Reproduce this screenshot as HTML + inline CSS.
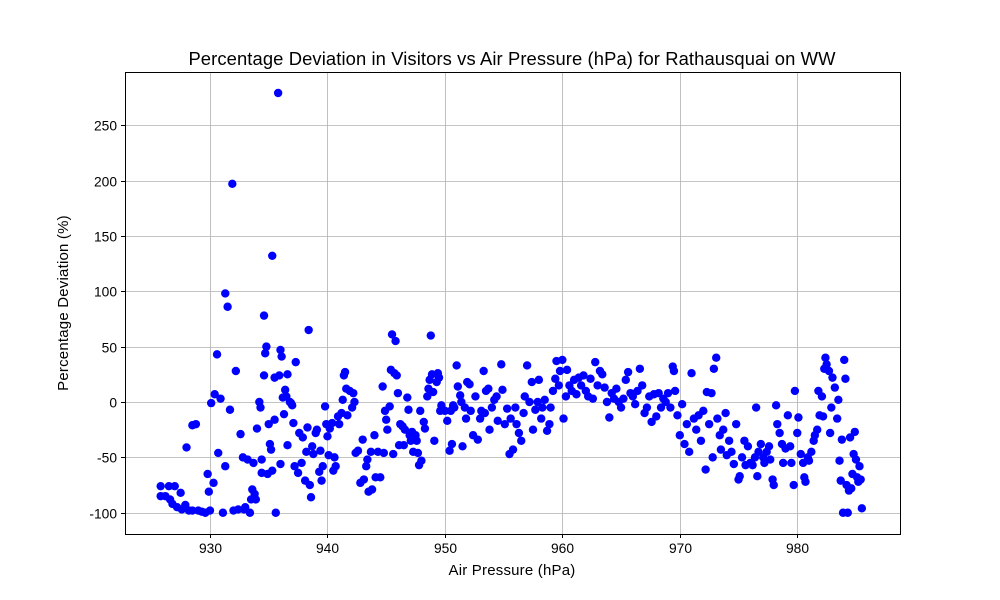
<!DOCTYPE html>
<html><head><meta charset="utf-8">
<style>
html,body{margin:0;padding:0;background:#fff;}
svg{display:block;font-family:"Liberation Sans","DejaVu Sans",sans-serif;}
</style></head>
<body>
<svg id="chart" width="1000" height="600">
  <rect width="1000" height="600" fill="#fff"/>
  <text x="512" y="65" text-anchor="middle" font-size="18.4" fill="#000" letter-spacing="0.1">Percentage Deviation in Visitors vs Air Pressure (hPa) for Rathausquai on WW</text>
  <g id="grid"></g>
  <g id="points"></g>
  <rect x="125.5" y="72.5" width="775" height="462" fill="none" stroke="#000" stroke-width="1"/>
  <g id="xticks"></g>
  <g id="yticks"></g>
  <text x="512" y="575" text-anchor="middle" font-size="15" fill="#000" letter-spacing="0.2">Air Pressure (hPa)</text>
  <text transform="translate(68,303) rotate(-90)" text-anchor="middle" font-size="15" fill="#000" letter-spacing="0.2">Percentage Deviation (%)</text>
</svg>
<script>
const xTicks=[930,940,950,960,970,980];
const yTicks=[-100,-50,0,50,100,150,200,250];
const pressure=[925.8,925.8,926.2,926.5,926.6,926.8,927,927.2,927.5,927.6,927.9,928,928.2,928.5,928.5,928.8,929,929.3,929.6,929.8,929.9,930,930.1,930.3,930.4,930.6,930.7,930.9,931.1,931.3,931.3,931.5,931.7,931.9,932,932.2,932.4,932.6,932.8,932.9,933,933.2,933.4,933.5,933.6,933.7,933.8,933.9,934,934.2,934.3,934.4,934.4,934.6,934.6,934.7,934.8,934.9,935,935.1,935.2,935.3,935.3,935.5,935.5,935.6,935.8,935.9,936,936,936.1,936.2,936.3,936.4,936.5,936.6,936.6,936.8,936.9,937,937.1,937.2,937.3,937.5,937.6,937.8,937.9,938.1,938.2,938.3,938.4,938.5,938.6,938.7,938.8,939,939.1,939.3,939.4,939.5,939.6,939.8,939.9,940,940.1,940.2,940.4,940.5,940.6,940.7,940.9,941,941.2,941.3,941.4,941.5,941.6,941.7,941.9,942.1,942.2,942.3,942.4,942.6,942.8,943,943.1,943.3,943.4,943.5,943.7,943.8,944,944.1,944.3,944.5,944.7,944.8,944.9,945,945.1,945.3,945.4,945.5,945.6,945.7,945.8,945.9,946,946.1,946.2,946.4,946.5,946.6,946.8,946.9,947,947.1,947.2,947.3,947.5,947.6,947.7,947.8,947.9,948,948.2,948.3,948.5,948.6,948.7,948.8,948.9,949,949.1,949.3,949.4,949.5,949.6,949.7,950,950.2,950.4,950.5,950.6,950.7,950.8,951,951.1,951.3,951.4,951.5,951.7,951.8,951.9,952.1,952.2,952.4,952.6,952.8,953,953.1,953.3,953.4,953.5,953.7,953.8,954,954.2,954.4,954.5,954.8,954.9,955.1,955.3,955.5,955.6,955.8,956,956.1,956.3,956.5,956.7,956.8,957,957.2,957.4,957.5,957.7,957.9,958,958.2,958.3,958.5,958.7,958.9,959,959.2,959.4,959.5,959.7,959.8,960,960.1,960.3,960.4,960.6,960.8,961,961.2,961.4,961.6,961.8,962,962.2,962.4,962.6,962.8,963,963.2,963.4,963.6,963.8,964,964.2,964.4,964.6,964.8,965,965.2,965.4,965.6,965.8,966,966.2,966.4,966.6,966.8,967,967.2,967.4,967.6,967.8,968,968.2,968.4,968.6,968.8,969,969.2,969.4,969.5,969.6,969.8,970,970.2,970.4,970.6,970.8,971,971.2,971.4,971.6,971.8,972,972.2,972.3,972.5,972.7,972.8,972.9,973.1,973.2,973.4,973.5,973.7,973.9,974,974.2,974.4,974.6,974.8,975,975.1,975.3,975.5,975.6,975.8,976,976.2,976.4,976.5,976.6,976.7,976.9,977.1,977.2,977.4,977.6,977.7,977.9,978,978.2,978.3,978.5,978.7,978.8,979,979.2,979.4,979.5,979.7,979.8,980,980.1,980.3,980.5,980.6,980.7,980.9,981,981.2,981.4,981.5,981.7,981.8,981.9,982.1,982.2,982.3,982.4,982.5,982.7,982.8,982.9,983,983.2,983.4,983.5,983.6,983.7,983.8,983.9,984,984.1,984.2,984.3,984.4,984.5,984.6,984.7,984.8,984.9,985,985.1,985.2,985.3,985.5,985.4];
const deviation=[-76,-85,-85,-76,-88,-92,-76,-95,-82,-97,-93,-41,-98,-98,-21,-20,-98,-99,-100,-65,-81,-98,-1,-73,7,43,-46,3,-100,98,-58,86,-7,197,-98,28,-97,-29,-50,-97,-95,-52,-100,-88,-79,-55,-83,-88,-24,0,-5,-52,-64,24,78,44,50,-65,-20,-38,-43,-62,132,-16,22,-100,279,24,47,-56,41,4,-11,11,5,-39,25,0,-1,-3,-19,-58,36,-64,-28,-55,-32,-71,-45,-23,65,-75,-86,-40,-47,-28,-25,-63,-44,-71,-58,-4,-20,-31,-48,-24,-19,-62,-50,-58,-13,-20,-10,2,24,27,12,-12,10,-5,8,0,-46,-44,-73,-34,-70,-58,-52,-81,-45,-79,-30,-68,-45,-68,14,-46,-8,-16,-25,-4,29,61,-47,26,55,24,8,-39,-20,-22,-39,-25,4,-7,-30,-35,-27,-45,-30,-35,-46,-57,-8,-53,-18,-24,5,12,20,60,25,9,-35,18,26,22,-8,-3,-8,-17,-44,-8,-38,-3,-5,33,14,6,0,-40,-5,-15,18,16,-8,-30,5,-34,-15,-8,28,-10,10,12,-25,-5,2,5,-17,34,11,-20,-6,-47,-15,-43,-5,-20,-28,-35,-10,5,33,0,18,-25,-7,0,20,-15,-5,2,-26,-20,-5,10,21,37,15,28,38,-15,5,29,15,10,20,7,22,15,24,10,5,21,3,36,15,28,25,13,0,-14,8,3,12,0,-5,3,20,27,8,5,-2,10,30,15,-10,-5,5,-18,7,-13,8,-5,3,0,8,-5,32,28,10,-12,-30,-2,-38,-20,-45,26,-15,-25,-12,-35,-8,-61,9,-20,8,-50,30,40,-15,-30,-43,-25,-10,-48,-35,-45,-56,-20,-70,-67,-50,-35,-57,-40,-55,-57,-50,-5,-67,-45,-38,-50,-55,-45,-40,-52,-70,-75,-3,-20,-28,-38,-55,-42,-12,-40,-55,-75,10,-28,-14,-47,-55,-68,-72,-50,-53,-45,-35,-30,-25,10,-12,5,-13,30,40,34,28,-28,-5,22,13,-15,2,-53,-71,-34,-100,38,21,-75,-100,-80,-32,-78,-65,-47,-27,-52,-68,-72,-58,-96,-70];

const X0=125,X1=900,Y0=72,Y1=534;
function xs(p){return 210+(p-930)*11.745;}
function ys(v){return 402-v*1.1075;}
const NS="http://www.w3.org/2000/svg";
const grid=document.getElementById('grid'),xg=document.getElementById('xticks'),yg=document.getElementById('yticks'),pg=document.getElementById('points');
function mk(t,a){const e=document.createElementNS(NS,t);for(const k in a)e.setAttribute(k,a[k]);return e;}
xTicks.forEach(t=>{
  const x=Math.round(xs(t))+0.5;
  const gl=mk('line',{x1:x,x2:x,y1:Y0,y2:Y1,stroke:'#b0b0b0','stroke-width':0.8});
  
  
  grid.appendChild(gl);
  const tk=mk('line',{x1:x,x2:x,y1:Y1,y2:Y1+4,stroke:'#000'});
  
  
  xg.appendChild(tk);
  const tx=mk('text',{x:x,y:Y1+19,'text-anchor':'middle','font-size':13.8,fill:'#000'});
  
  
  tx.textContent=t;xg.appendChild(tx);
});
yTicks.forEach(t=>{
  const y=Math.round(ys(t))+0.5;
  const gl=mk('line',{x1:X0,x2:X1,y1:y,y2:y,stroke:'#b0b0b0','stroke-width':0.8});
  
  
  grid.appendChild(gl);
  const tk=mk('line',{x1:X0-4,x2:X0,y1:y,y2:y,stroke:'#000'});
  
  
  yg.appendChild(tk);
  const tx=mk('text',{x:X0-8,y:y+5,'text-anchor':'end','font-size':13.8,fill:'#000'});
  
  
  tx.textContent=t;yg.appendChild(tx);
});
pressure.forEach((p,i)=>{
  const c=mk('circle',{cx:xs(p),cy:ys(deviation[i]),r:4.2,fill:'#0000ff'});
  
  
  pg.appendChild(c);
});
</script>
</body></html>
